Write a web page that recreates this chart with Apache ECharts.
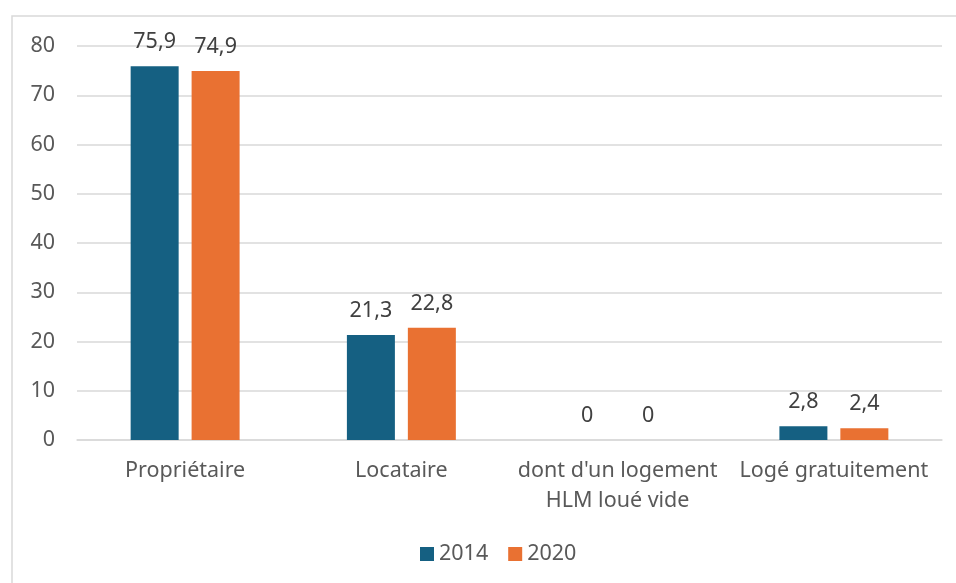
<!DOCTYPE html>
<html lang="fr">
<head>
<meta charset="UTF-8">
<script src="https://cdn.jsdelivr.net/npm/echarts@6/dist/echarts.min.js"></script>
<title>Statut d'occupation</title>
<style>
    html, body { margin: 0; padding: 0; background: #fff; }
    #main { width: 956px; height: 583px; }
</style>
</head>
<body>
<div id="main"></div>
<script type="text/javascript">
    // data
    var categories = ["Propriétaire", "Locataire", "dont d'un logement\nHLM loué vide", "Logé gratuitement"];
    var values2014 = [75.9, 21.3, 0, 2.8];
    var values2020 = [74.9, 22.8, 0, 2.4];
    var yTicks = { min: 0, max: 80, interval: 10 };

    var font = "'Noto Sans', sans-serif";
    var fs = 21.5;
    var labelFmt = function (p) { return String(p.value).replace('.', ','); };

    var chart = echarts.init(document.getElementById('main'));
    chart.setOption({
        animation: false,
        textStyle: { fontFamily: font },
        graphic: [{
            type: 'rect',
            shape: { x: 12, y: 16, width: 1000, height: 700 },
            style: { fill: 'none', stroke: '#d9d9d9', lineWidth: 1.5 },
            silent: true
        }],
        grid: { left: 77, right: 14, top: 46, bottom: 143 },
        legend: {
            bottom: 13,
            left: 415,
            itemWidth: 14,
            itemHeight: 14,
            itemGap: 20,
            icon: 'rect',
            textStyle: { fontSize: fs, color: '#595959', fontFamily: font },
            data: ['2014', '2020']
        },
        xAxis: {
            type: 'category',
            data: categories,
            axisTick: { show: false },
            axisLine: { lineStyle: { color: '#d9d9d9', width: 1.5 } },
            axisLabel: { interval: 0, margin: 16, fontSize: fs, color: '#595959', lineHeight: 30, fontFamily: font }
        },
        yAxis: {
            type: 'value',
            min: yTicks.min,
            max: yTicks.max,
            interval: yTicks.interval,
            axisLine: { show: false },
            axisTick: { show: false },
            splitLine: { lineStyle: { color: '#d9d9d9', width: 1.5 } },
            axisLabel: { margin: 22, fontSize: fs, color: '#595959', fontFamily: font }
        },
        series: [{
            name: '2014',
            type: 'bar',
            data: values2014,
            barWidth: 48,
            barGap: '27%',
            itemStyle: { color: '#156082' },
            label: { show: true, position: 'top', distance: 13, fontSize: fs, color: '#404040', formatter: labelFmt, fontFamily: font }
        }, {
            name: '2020',
            type: 'bar',
            data: values2020,
            barWidth: 48,
            itemStyle: { color: '#E97132' },
            label: { show: true, position: 'top', distance: 13, fontSize: fs, color: '#404040', formatter: labelFmt, fontFamily: font }
        }]
    });
</script>
</body>
</html>
